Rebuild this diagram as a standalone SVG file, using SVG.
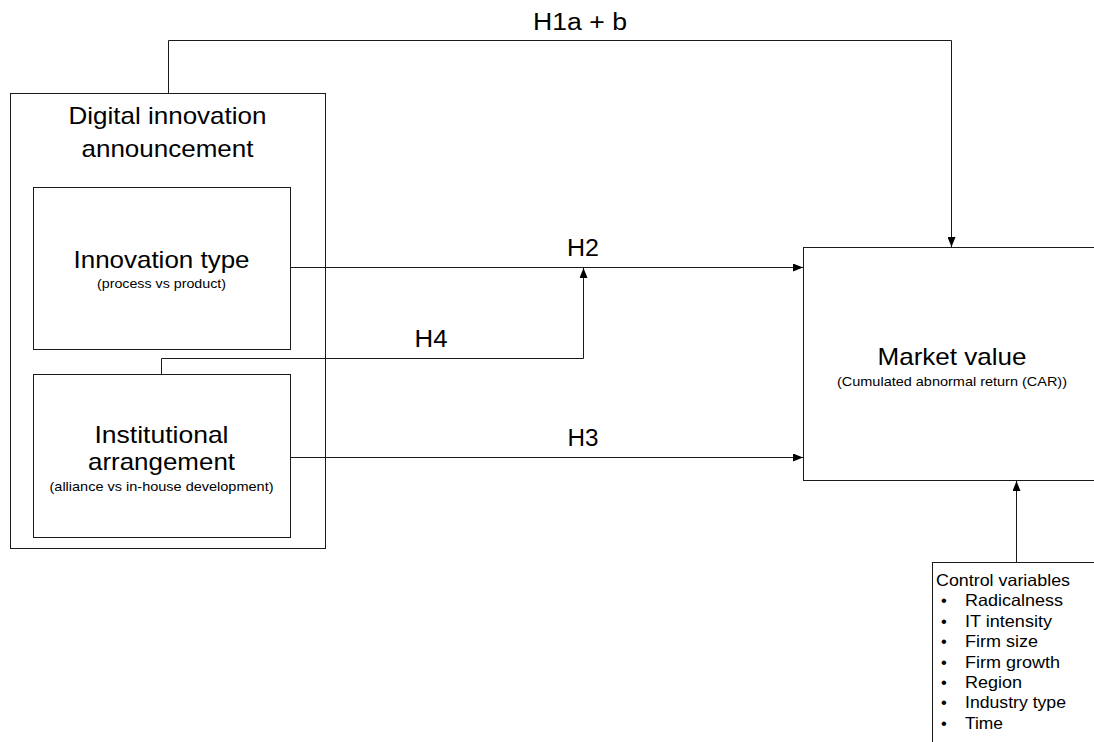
<svg xmlns="http://www.w3.org/2000/svg" width="1094" height="742" viewBox="0 0 1094 742">
<style>
  .box { fill: #ffffff; stroke: #1a1a1a; stroke-width: 1; }
  .conn { fill: none; stroke: #1a1a1a; stroke-width: 1; }
  text { font-family: "Liberation Sans", Arial, sans-serif; fill: #000000; }
  .big { font-size: 24px; text-anchor: middle; }
  .sub { font-size: 13.5px; text-anchor: middle; }
  .hl { font-size: 23px; text-anchor: middle; }
  .ctl { font-size: 16.5px; }
</style>
<defs>
  <marker id="arrow" markerWidth="10" markerHeight="8" refX="10" refY="4" orient="auto" markerUnits="userSpaceOnUse">
    <path d="M0,0 L10,4 L0,8 z" fill="#000000"/>
  </marker>
</defs>
<rect width="1094" height="742" fill="#ffffff"/>

<g id="node-digital-innovation">
  <rect class="box" x="10.5" y="93.5" width="315" height="455"/>
  <text class="big" x="167.5" y="124" textLength="198" lengthAdjust="spacingAndGlyphs">Digital innovation</text>
  <text class="big" x="167.5" y="157" textLength="172" lengthAdjust="spacingAndGlyphs">announcement</text>
</g>

<g id="node-innovation-type">
  <rect class="box" x="33.5" y="187.5" width="257" height="162"/>
  <text class="big" x="161.5" y="268" textLength="176" lengthAdjust="spacingAndGlyphs">Innovation type</text>
  <text class="sub" x="161.5" y="288" textLength="129" lengthAdjust="spacingAndGlyphs">(process vs product)</text>
</g>

<g id="node-institutional">
  <rect class="box" x="33.5" y="374.5" width="257" height="163"/>
  <text class="big" x="161.5" y="443" textLength="134" lengthAdjust="spacingAndGlyphs">Institutional</text>
  <text class="big" x="161.5" y="470" textLength="147" lengthAdjust="spacingAndGlyphs">arrangement</text>
  <text class="sub" x="161.5" y="491" textLength="224" lengthAdjust="spacingAndGlyphs">(alliance vs in-house development)</text>
</g>

<g id="node-market-value">
  <rect class="box" x="803.5" y="247.5" width="320" height="233"/>
  <text class="big" x="952" y="365" textLength="149" lengthAdjust="spacingAndGlyphs">Market value</text>
  <text class="sub" x="952" y="386" textLength="230" lengthAdjust="spacingAndGlyphs">(Cumulated abnormal return (CAR))</text>
</g>

<g id="node-control-variables">
  <rect class="box" x="932.5" y="562.5" width="200" height="200"/>
  <text class="ctl" x="936" y="586" textLength="134" lengthAdjust="spacingAndGlyphs">Control variables</text>
  <g class="ctl">
    <text x="941" y="606.4">•</text>
    <text x="965" y="606.4" textLength="98" lengthAdjust="spacingAndGlyphs">Radicalness</text>
    <text x="941" y="626.8">•</text>
    <text x="965" y="626.8" textLength="87" lengthAdjust="spacingAndGlyphs">IT intensity</text>
    <text x="941" y="647.2">•</text>
    <text x="965" y="647.2" textLength="73" lengthAdjust="spacingAndGlyphs">Firm size</text>
    <text x="941" y="667.6">•</text>
    <text x="965" y="667.6" textLength="95" lengthAdjust="spacingAndGlyphs">Firm growth</text>
    <text x="941" y="688">•</text>
    <text x="965" y="688" textLength="57" lengthAdjust="spacingAndGlyphs">Region</text>
    <text x="941" y="708.4">•</text>
    <text x="965" y="708.4" textLength="101" lengthAdjust="spacingAndGlyphs">Industry type</text>
    <text x="941" y="728.8">•</text>
    <text x="965" y="728.8" textLength="38" lengthAdjust="spacingAndGlyphs">Time</text>
  </g>
</g>

<g id="connectors">
  <path class="conn" d="M168.5,93 V40.5 H951.5 V247" marker-end="url(#arrow)"/>
  <path class="conn" d="M290,267.5 H803" marker-end="url(#arrow)"/>
  <path class="conn" d="M161.5,374 V358.5 H583.5 V268" marker-end="url(#arrow)"/>
  <path class="conn" d="M290,457.5 H803" marker-end="url(#arrow)"/>
  <path class="conn" d="M1016.5,562 V481" marker-end="url(#arrow)"/>
  <text class="hl" x="580" y="30" textLength="94" lengthAdjust="spacingAndGlyphs">H1a + b</text>
  <text class="hl" x="583" y="256" textLength="32" lengthAdjust="spacingAndGlyphs">H2</text>
  <text class="hl" x="431" y="347" textLength="33" lengthAdjust="spacingAndGlyphs">H4</text>
  <text class="hl" x="583" y="446" textLength="31" lengthAdjust="spacingAndGlyphs">H3</text>
</g>
</svg>
